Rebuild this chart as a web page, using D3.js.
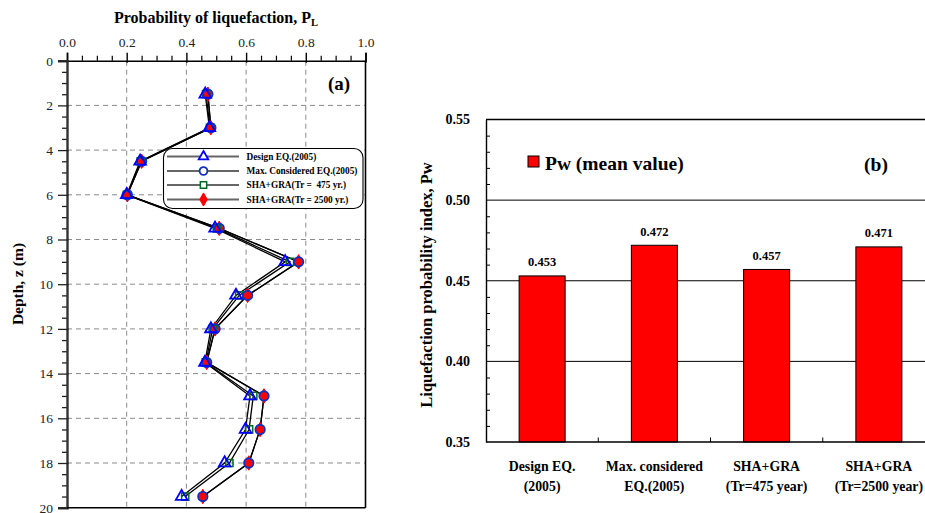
<!DOCTYPE html>
<html><head><meta charset="utf-8">
<script src="https://cdn.jsdelivr.net/npm/d3@7"></script>
<style>
html,body{margin:0;padding:0;background:#fff;}
svg, svg text{font-family:"Liberation Serif","Times New Roman",Times,"DejaVu Serif",serif !important;}
</style></head>
<body><svg id="c" width="925" height="513" font-family="Liberation Serif, Times New Roman, serif"></svg>
<script>
// ---------- Panel (a) data ----------
const depths   = [1.5, 3, 4.5, 6, 7.5, 9, 10.5, 12, 13.5, 15, 16.5, 18, 19.5];
const design   = [0.463, 0.477, 0.245, 0.200, 0.496, 0.731, 0.566, 0.482, 0.462, 0.613, 0.598, 0.528, 0.384];
const mce      = [0.472, 0.482, 0.250, 0.202, 0.510, 0.776, 0.605, 0.496, 0.468, 0.660, 0.647, 0.609, 0.455];
const sha475   = [0.466, 0.479, 0.247, 0.201, 0.502, 0.747, 0.577, 0.488, 0.465, 0.624, 0.610, 0.544, 0.396];
const sha2500  = [0.472, 0.482, 0.250, 0.202, 0.510, 0.776, 0.605, 0.496, 0.468, 0.660, 0.647, 0.609, 0.455];
const seriesNames = ["Design EQ.(2005)", "Max. Considered EQ.(2005)", "SHA+GRA(Tr =  475 yr.)", "SHA+GRA(Tr = 2500 yr.)"];
const xTicksA = [0, 0.2, 0.4, 0.6, 0.8, 1.0];
const yTicksA = [0, 2, 4, 6, 8, 10, 12, 14, 16, 18, 20];

// ---------- Panel (b) data ----------
const categories = [["Design EQ.", "(2005)"], ["Max. considered", "EQ.(2005)"], ["SHA+GRA", "(Tr=475 year)"], ["SHA+GRA", "(Tr=2500 year)"]];
const pwValues = [0.453, 0.472, 0.457, 0.471];
const yTicksB = [0.35, 0.40, 0.45, 0.50, 0.55];

const FONT = "Liberation Serif, Times New Roman, serif";
const svg = d3.select("#c");
svg.append("rect").attr("width", 925).attr("height", 513).attr("fill", "#fff");

// ================= Panel (a) =================
const ax0 = 67, ax1 = 365.5, ay0 = 60.7, ay1 = 507.7;
const x = d3.scaleLinear().domain([0, 1]).range([ax0, ax1]);
const y = d3.scaleLinear().domain([0, 20]).range([ay0, ay1]);
const gA = svg.append("g");

// grid
gA.append("g").selectAll("line").data(xTicksA.filter(v => v > 0 && v < 1)).join("line")
  .attr("x1", d => x(d)).attr("x2", d => x(d)).attr("y1", ay0).attr("y2", ay1)
  .attr("stroke", "#8a8a8a").attr("stroke-dasharray", "5,4").attr("stroke-width", 1);
gA.append("g").selectAll("line").data(yTicksA.filter(v => v > 0 && v < 20)).join("line")
  .attr("y1", d => y(d)).attr("y2", d => y(d)).attr("x1", ax0).attr("x2", ax1)
  .attr("stroke", "#8a8a8a").attr("stroke-dasharray", "5,4").attr("stroke-width", 1);

// top axis: minor ticks
const minorX = d3.range(0, 1.0001, 0.05).filter(v => Math.abs(v * 5 - Math.round(v * 5)) > 1e-6);
gA.append("g").attr("transform", `translate(0,${ay0})`)
  .call(d3.axisTop(x).tickValues(minorX).tickSize(5).tickFormat(""))
  .call(g => g.select(".domain").remove())
  .selectAll("line").attr("stroke", "#000").attr("stroke-width", 1.2);
const topAx = gA.append("g").attr("transform", `translate(0,${ay0})`)
  .call(d3.axisTop(x).tickValues(xTicksA).tickSize(8).tickPadding(6).tickFormat(d3.format(".1f")))
  .attr("font-family", FONT);
topAx.select(".domain").attr("stroke", "#000").attr("stroke-width", 1.6);
topAx.selectAll(".tick line").attr("y2", -8).attr("y1", 2).attr("stroke", "#000").attr("stroke-width", 1.4);
topAx.selectAll("text").attr("font-size", 13.5).attr("fill", "#222");

// left axis
const minorY = d3.range(0, 20.001, 0.5).filter(v => v % 2 !== 0);
gA.append("g").attr("transform", `translate(${ax0},0)`)
  .call(d3.axisLeft(y).tickValues(minorY).tickSize(5).tickFormat(""))
  .call(g => g.select(".domain").remove())
  .selectAll("line").attr("stroke", "#222").attr("stroke-width", 1.3);
const leftAx = gA.append("g").attr("transform", `translate(${ax0},0)`)
  .call(d3.axisLeft(y).tickValues(yTicksA).tickSize(9).tickPadding(5).tickFormat(d3.format("d")))
  .attr("font-family", FONT);
leftAx.select(".domain").attr("stroke", "#333").attr("stroke-width", 2.4);
leftAx.selectAll(".tick line").attr("x1", 1.5).attr("stroke", "#222").attr("stroke-width", 1.3);
leftAx.selectAll("text").attr("font-size", 13.5).attr("fill", "#222");

// right & bottom border
gA.append("line").attr("x1", ax1).attr("x2", ax1).attr("y1", ay0).attr("y2", ay1).attr("stroke", "#000").attr("stroke-width", 1.6);
gA.append("line").attr("x1", ax0).attr("x2", ax1).attr("y1", ay1).attr("y2", ay1).attr("stroke", "#000").attr("stroke-width", 1.6);

// titles
const tA = gA.append("text").attr("x", 216).attr("y", 23).attr("text-anchor", "middle")
  .attr("font-size", 16).attr("font-weight", "bold").text("Probability of liquefaction, P");
tA.append("tspan").attr("font-size", 10.5).attr("dy", 3).text("L");
gA.append("text").attr("transform", "translate(23,284) rotate(-90)").attr("text-anchor", "middle")
  .attr("font-size", 15.5).attr("font-weight", "bold").text("Depth, z (m)");
gA.append("text").attr("x", 339).attr("y", 90).attr("text-anchor", "middle")
  .attr("font-size", 19).attr("font-weight", "bold").text("(a)");

// series
const seriesData = [sha2500, sha475, mce, design];
const line = d3.line().x(d => x(d[0])).y(d => y(d[1]));
seriesData.forEach(vals => {
  gA.append("path").datum(vals.map((v, i) => [v, depths[i]]))
    .attr("d", line).attr("fill", "none").attr("stroke", "#000").attr("stroke-width", 1.3);
});

const symDiamond = d3.symbol().type(d3.symbolDiamond).size(60);
const symSquare = d3.symbol().type(d3.symbolSquare).size(52);
const symCircle = d3.symbol().type(d3.symbolCircle).size(70);
const symTri = d3.symbol().type(d3.symbolTriangle).size(58);
const markerStyles = [
  {vals: sha2500, sym: symDiamond, fill: "#ff0000", stroke: "#ff0000", sw: 1},
  {vals: sha475,  sym: symSquare,  fill: "none",    stroke: "#006a20", sw: 1.5},
  {vals: mce,     sym: symCircle,  fill: "none",    stroke: "#1030c0", sw: 1.8},
  {vals: design,  sym: symTri,     fill: "none",    stroke: "#0000ff", sw: 1.8}
];
markerStyles.forEach(m => {
  gA.append("g").selectAll("path").data(m.vals.map((v, i) => [v, depths[i]])).join("path")
    .attr("transform", d => `translate(${x(d[0])},${y(d[1])})`)
    .attr("d", m.sym).attr("fill", m.fill).attr("stroke", m.stroke).attr("stroke-width", m.sw);
});

// legend
const lg = gA.append("g");
lg.append("rect").attr("x", 163.5).attr("y", 148.5).attr("width", 199.5).attr("height", 60)
  .attr("rx", 9).attr("fill", "#fff").attr("stroke", "#000").attr("stroke-width", 1.1);
const legendMarkers = [markerStyles[3], markerStyles[2], markerStyles[1], markerStyles[0]];
const legendSyms = [
  d3.symbol().type(d3.symbolTriangle).size(40),
  d3.symbol().type(d3.symbolCircle).size(48),
  d3.symbol().type(d3.symbolSquare).size(40),
  d3.symbol().type(d3.symbolDiamond).size(50)
];
const rowY = [156.5, 171, 185, 199.5];
seriesNames.forEach((name, i) => {
  lg.append("line").attr("x1", 167).attr("x2", 239).attr("y1", rowY[i]).attr("y2", rowY[i])
    .attr("stroke", "#666").attr("stroke-width", 1.8);
  const m = legendMarkers[i];
  lg.append("path").attr("transform", `translate(203.5,${rowY[i]})`).attr("d", legendSyms[i])
    .attr("fill", m.fill === "none" ? "#fff" : m.fill).attr("stroke", m.stroke).attr("stroke-width", m.sw);
  lg.append("text").attr("x", 246.5).attr("y", rowY[i] + 3.3).attr("font-size", 9.3)
    .attr("font-weight", "bold").attr("xml:space", "preserve").style("white-space", "pre").text(name);
});

// ================= Panel (b) =================
const bx0 = 486, bx1 = 935, by0 = 442, by1 = 119.5;
const xb = d3.scaleBand().domain(d3.range(categories.length)).range([bx0, bx1]).paddingInner(0.59).paddingOuter(0.295);
const yb = d3.scaleLinear().domain([0.35, 0.55]).range([by0, by1]);
const gB = svg.append("g");

// horizontal grid lines (major)
gB.append("g").selectAll("line").data(yTicksB.slice(1)).join("line")
  .attr("x1", bx0).attr("x2", 925).attr("y1", d => yb(d)).attr("y2", d => yb(d))
  .attr("stroke", "#000").attr("stroke-width", d => d === 0.55 ? 1.4 : 1);

// bars
gB.append("g").selectAll("rect").data(pwValues).join("rect")
  .attr("x", (d, i) => xb(i)).attr("width", xb.bandwidth())
  .attr("y", d => yb(d)).attr("height", d => yb(0.35) - yb(d))
  .attr("fill", "#ff0000").attr("stroke", "#000").attr("stroke-width", 1);

// value labels
gB.append("g").selectAll("text").data(pwValues).join("text")
  .attr("x", (d, i) => xb(i) + xb.bandwidth() / 2).attr("y", d => yb(d) - 9.5)
  .attr("text-anchor", "middle").attr("font-size", 12.5).attr("font-weight", "bold")
  .text(d => d3.format(".3f")(d));

// left axis
const minorB = d3.range(0.35, 0.5501, 0.01).map(v => +v.toFixed(2)).filter(v => Math.round(v * 100) % 5 !== 0);
gB.append("g").attr("transform", `translate(${bx0},0)`)
  .call(d3.axisRight(yb).tickValues(minorB).tickSize(4).tickFormat(""))
  .call(g => g.select(".domain").remove())
  .selectAll("line").attr("stroke", "#000");
const lb = gB.append("g").attr("transform", `translate(${bx0},0)`)
  .call(d3.axisLeft(yb).tickValues(yTicksB).tickSize(0).tickPadding(16).tickFormat(d3.format(".2f")))
  .attr("font-family", FONT);
lb.select(".domain").attr("stroke", "#000").attr("stroke-width", 1.4);
lb.selectAll("text").attr("font-size", 14).attr("font-weight", "bold").attr("fill", "#000");

// bottom axis
gB.append("line").attr("x1", bx0).attr("x2", 925).attr("y1", by0).attr("y2", by0).attr("stroke", "#000").attr("stroke-width", 1.4);
gB.append("g").selectAll("line").data(d3.range(1, categories.length)).join("line")
  .attr("x1", i => xb(i) - xb.step() * xb.paddingInner() / 2).attr("x2", i => xb(i) - xb.step() * xb.paddingInner() / 2)
  .attr("y1", by0).attr("y2", by0 - 4.5).attr("stroke", "#000").attr("stroke-width", 1);

// category labels
const cl = gB.append("g").selectAll("text").data(categories).join("text")
  .attr("x", (d, i) => xb(i) + xb.bandwidth() / 2).attr("y", 471)
  .attr("text-anchor", "middle").attr("font-size", 13.8).attr("font-weight", "bold");
cl.append("tspan").text(d => d[0]);
cl.append("tspan").attr("x", (d, i) => xb(i) + xb.bandwidth() / 2).attr("dy", 20).text(d => d[1]);

// y label
gB.append("text").attr("transform", "translate(432,285) rotate(-90)").attr("text-anchor", "middle")
  .attr("font-size", 16.5).attr("font-weight", "bold").text("Liquefaction probability index, Pw");

// legend & panel tag
gB.append("rect").attr("x", 528).attr("y", 156).attr("width", 11).attr("height", 11)
  .attr("fill", "#ff0000").attr("stroke", "#000").attr("stroke-width", 1);
gB.append("text").attr("x", 545).attr("y", 170).attr("font-size", 19.5).attr("font-weight", "bold").text("Pw (mean value)");
gB.append("text").attr("x", 876).attr("y", 171).attr("text-anchor", "middle")
  .attr("font-size", 19.5).attr("font-weight", "bold").text("(b)");
</script></body></html>
